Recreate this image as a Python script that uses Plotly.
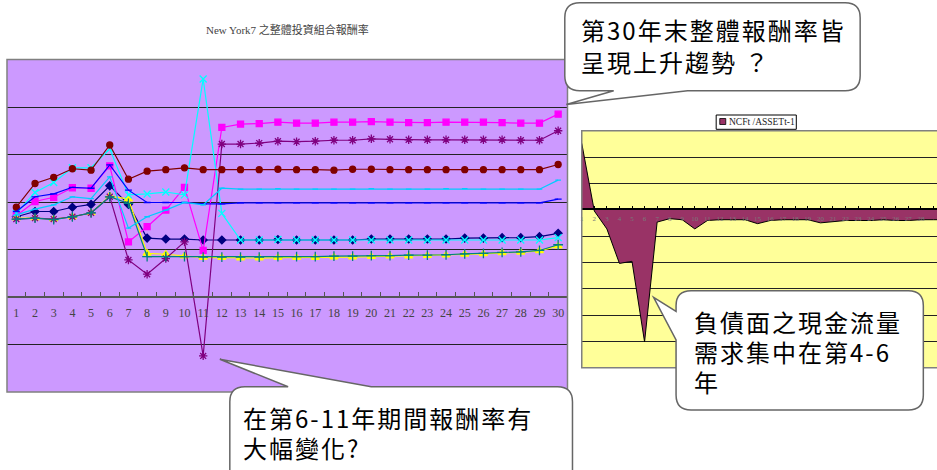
import plotly.graph_objects as go

W, H = 937, 470

# ---------------- data ----------------
years = list(range(1, 31))
year_labels = [str(y) for y in years]

# overall portfolio return of each asset mix (one gridline step = 1 unit)
ret_navy = [1.69, 1.80, 1.80, 1.89, 1.95, 2.34, 1.95, 1.24, 1.22, 1.22,
            1.20, 1.20, 1.20, 1.20, 1.21, 1.20, 1.20, 1.20, 1.20, 1.22,
            1.22, 1.22, 1.22, 1.22, 1.24, 1.24, 1.25, 1.25, 1.27, 1.34]
ret_magenta = [1.71, 2.01, 2.10, 2.30, 2.29, 2.76, 1.16, 1.48, 1.83, 2.31,
               0.98, 3.57, 3.64, 3.65, 3.68, 3.66, 3.66, 3.68, 3.68, 3.69,
               3.68, 3.67, 3.67, 3.68, 3.68, 3.68, 3.67, 3.66, 3.66, 3.85]
ret_yellow = [1.66, 1.66, 1.64, 1.69, 1.77, 2.13, 2.06, 0.92, 0.90, 0.86,
              0.83, 0.83, 0.82, 0.82, 0.83, 0.83, 0.83, 0.84, 0.84, 0.85,
              0.86, 0.86, 0.87, 0.88, 0.90, 0.91, 0.93, 0.94, 0.97, 1.07]
ret_cyan = [1.76, 2.20, 2.41, 2.72, 2.72, 3.12, 2.15, 2.17, 2.21, 2.15,
            4.59, 1.76, 1.20, 1.20, 1.21, 1.20, 1.20, 1.20, 1.20, 1.20,
            1.20, 1.20, 1.20, 1.20, 1.20, 1.20, 1.20, 1.20, 1.20, 1.25]
ret_purple = [1.64, 1.66, 1.64, 1.69, 1.77, 2.11, 0.78, 0.48, 0.81, 1.16,
              -1.24, 3.22, 3.22, 3.24, 3.28, 3.27, 3.28, 3.30, 3.30, 3.33,
              3.32, 3.31, 3.31, 3.31, 3.31, 3.31, 3.31, 3.30, 3.30, 3.50]
ret_darkred = [1.89, 2.39, 2.52, 2.70, 2.67, 3.20, 2.48, 2.65, 2.68, 2.72,
               2.68, 2.68, 2.68, 2.68, 2.69, 2.68, 2.68, 2.67, 2.69, 2.69,
               2.68, 2.68, 2.68, 2.68, 2.68, 2.68, 2.68, 2.68, 2.68, 2.79]
ret_teal = [1.64, 1.66, 1.63, 1.69, 1.77, 2.11, 1.97, 0.85, 0.85, 0.85,
            0.84, 0.84, 0.84, 0.84, 0.85, 0.85, 0.85, 0.86, 0.86, 0.87,
            0.87, 0.88, 0.88, 0.89, 0.91, 0.92, 0.94, 0.95, 0.98, 1.10]
ret_blue = [1.80, 2.11, 2.17, 2.31, 2.29, 2.78, 2.25, 1.99, 1.99, 1.99,
            1.96, 1.96, 1.98, 1.98, 1.98, 1.98, 1.98, 1.98, 1.98, 1.98,
            1.98, 1.98, 1.98, 1.98, 1.98, 1.98, 1.98, 1.98, 1.98, 2.06]
ret_sky = [1.73, 1.85, 1.94, 2.11, 2.07, 2.53, 1.45, 1.69, 1.83, 1.99,
           1.94, 2.29, 2.27, 2.27, 2.28, 2.27, 2.27, 2.27, 2.27, 2.28,
           2.27, 2.27, 2.27, 2.28, 2.28, 2.27, 2.27, 2.27, 2.27, 2.46]

# liability-side net cash flow relative to prior-year assets
ncf_ratio = [2.52, -0.05, -0.73, -2.04, -1.96, -5.02, -0.47, -0.34, -0.38, -0.73,
             -0.41, -0.38, -0.38, -0.38, -0.53, -0.41, -0.38, -0.38, -0.38, -0.50,
             -0.46, -0.41, -0.41, -0.41, -0.38, -0.41, -0.41, -0.38, -0.38, -0.38]

chart_title = "New York7 之整體投資組合報酬率"
legend_label = "NCFt /ASSETt-1"
note_top = ["第30年末整體報酬率皆", "呈現上升趨勢 ？"]
note_bottom = ["在第6-11年期間報酬率有", "大幅變化?"]
note_right = ["負債面之現金流量", "需求集中在第4-6", "年"]

# ---------------- styles ----------------
series = [
    (ret_navy,    dict(color="#000080", symbol="diamond", size=6)),
    (ret_magenta, dict(color="#FF00FF", symbol="square", size=6)),
    (ret_yellow,  dict(color="#FFFF00", symbol="triangle-up", size=7)),
    (ret_cyan,    dict(color="#00FFFF", symbol="x-thin-open", size=7)),
    (ret_purple,  dict(color="#800080", symbol="asterisk-open", size=7)),
    (ret_darkred, dict(color="#800000", symbol="circle", size=6)),
    (ret_teal,    dict(color="#008080", symbol="cross-thin-open", size=7)),
    (ret_blue,    dict(color="#0000FF", symbol="line-ew-open", size=5)),
    (ret_sky,     dict(color="#00CCFF", symbol="line-ew-open", size=4)),
]


def px(x):
    return x / W


def py(y):
    return 1 - y / H


fig = go.Figure()

for values, st in series:
    fig.add_trace(go.Scatter(
        x=year_labels, y=values, mode="lines+markers",
        line=dict(color=st["color"], width=1.2),
        marker=dict(color=st["color"], symbol=st["symbol"], size=st["size"],
                    line=dict(color=st["color"], width=1.3)),
        xaxis="x", yaxis="y", showlegend=False, hoverinfo="skip",
    ))

fig.add_trace(go.Scatter(
    x=years, y=ncf_ratio, mode="lines", fill="tozeroy",
    fillcolor="#993366", line=dict(color="#000000", width=1),
    xaxis="x2", yaxis="y2", showlegend=False, hoverinfo="skip",
))

SERIF = "Liberation Serif, Times New Roman, serif"
CJK = "Noto Sans CJK TC, Noto Sans CJK SC, sans-serif"

fig.update_layout(
    width=W, height=H,
    margin=dict(l=0, r=0, t=0, b=0),
    paper_bgcolor="white",
    plot_bgcolor="rgba(0,0,0,0)",
    xaxis=dict(
        type="category", domain=[px(5), px(566.7)], range=[-0.5, 29.5],
        anchor="free", position=py(297),
        showline=True, linecolor="#555555", linewidth=1.5,
        ticks="inside", ticklen=4, tickcolor="#555555", tickwidth=1,
        tickson="boundaries", showgrid=False, zeroline=False,
        tickangle=0,
        tickfont=dict(family=SERIF, size=12, color="#444444"),
        ticklabelstandoff=5,
    ),
    yaxis=dict(
        domain=[py(392), py(59.5)], range=[-2, 5], dtick=1, anchor="x",
        showgrid=True, gridcolor="#222222", gridwidth=1,
        showticklabels=False, zeroline=False, showline=False, ticks="",
    ),
    xaxis2=dict(
        domain=[px(581), 1.0], range=[1, 29.28],
        anchor="free", position=py(209.3),
        tickvals=years, ticktext=year_labels, tickangle=0,
        showline=True, linecolor="#000000", linewidth=1.5,
        ticks="inside", ticklen=3, tickcolor="#000000", tickwidth=1,
        showgrid=False, zeroline=False,
        tickfont=dict(family=SERIF, size=7, color="#7a7a7a"),
        ticklabelstandoff=3,
    ),
    yaxis2=dict(
        domain=[py(367.7), py(130.7)], range=[-6, 3], dtick=1, anchor="x2",
        showgrid=True, gridcolor="#222222", gridwidth=1,
        showticklabels=False, zeroline=False, showline=False, ticks="",
    ),
)

shapes = []
# plot-area backgrounds
for xr, yr, fill in (("x domain", "y domain", "#CC99FF"), ("x2 domain", "y2 domain", "#FFFF99")):
    shapes.append(dict(type="rect", xref=xr, yref=yr, x0=0, x1=1, y0=0, y1=1,
                       fillcolor=fill, line=dict(width=0), layer="below"))
# frames: full box on the returns chart, open on the right for the cash-flow chart
frame = dict(color="#808080", width=1.5)
shapes.append(dict(type="rect", xref="x domain", yref="y domain", x0=0, x1=1, y0=0, y1=1,
                   fillcolor="rgba(0,0,0,0)", line=frame, layer="above"))
shapes.append(dict(type="path", xref="x2 domain", yref="y2 domain",
                   path="M 1,1 L 0,1 L 0,0 L 1,0", line=frame, layer="above"))

# legend box of the cash-flow chart
shapes.append(dict(type="rect", xref="paper", yref="paper",
                   x0=px(715.7), x1=px(796), y0=py(129.3), y1=py(115),
                   fillcolor="white", line=dict(color="#000000", width=1)))
shapes.append(dict(type="rect", xref="paper", yref="paper",
                   x0=px(719.3), x1=px(725.3), y0=py(124.5), y1=py(118.5),
                   fillcolor="#993366", line=dict(color="#000000", width=0.8)))


def bubble(x0, y0, x1, y1, r, side, a, b, tip):
    """Rounded speech-bubble outline in pixel coords; tail leaves `side` between a and b."""
    tx, ty = tip
    pts = []

    def P(cmd, *xy):
        out = [cmd]
        for i in range(0, len(xy), 2):
            out.append(f"{px(xy[i]):.5f},{py(xy[i + 1]):.5f}")
        pts.append(" ".join(out))

    P("M", x0 + r, y0)
    if side == "top":
        P("L", a, y0); P("L", tx, ty); P("L", b, y0)
    P("L", x1 - r, y0)
    P("Q", x1, y0, x1, y0 + r)
    P("L", x1, y1 - r)
    P("Q", x1, y1, x1 - r, y1)
    if side == "bottom":
        P("L", b, y1); P("L", tx, ty); P("L", a, y1)
    P("L", x0 + r, y1)
    P("Q", x0, y1, x0, y1 - r)
    if side == "left":
        P("L", x0, b); P("L", tx, ty); P("L", x0, a)
    P("L", x0, y0 + r)
    P("Q", x0, y0, x0 + r, y0)
    return " ".join(pts) + " Z"


bubble_style = dict(type="path", xref="paper", yref="paper", fillcolor="white",
                    line=dict(color="#666666", width=1.5), layer="above")
shapes.append(dict(path=bubble(564, 2.7, 860, 90.7, 15, "bottom", 613, 687, (565.5, 104.5)),
                   **bubble_style))
shapes.append(dict(path=bubble(228.3, 386.7, 571.7, 500, 15, "top", 286.7, 370, (218.3, 359.3)),
                   **bubble_style))
shapes.append(dict(path=bubble(675.5, 290.7, 923.3, 410, 15, "left", 311.5, 340, (653, 297.3)),
                   **bubble_style))
fig.update_layout(shapes=shapes)

annotations = [
    dict(text=chart_title, x=px(286), y=py(30), xanchor="center", yanchor="middle",
         font=dict(family=SERIF + ", " + CJK, size=11, color="#444444")),
    dict(text=legend_label, x=px(727), y=py(122.2), xanchor="left", yanchor="middle",
         font=dict(family=SERIF, size=9.5, color="#222222")),
]


def callout_text(lines, left, centers):
    """One annotation per callout line, with slightly widened glyph spacing."""
    for ln, cy in zip(lines, centers):
        annotations.append(dict(
            text=f'<span style="letter-spacing:2px">{ln}</span>',
            x=px(left), y=py(cy), xanchor="left", yanchor="middle", align="left",
            height=29, valign="middle", borderpad=0,
            font=dict(family=CJK, size=24, color="#000000"),
        ))


callout_text(note_top, 579, [29.5, 62])
callout_text(note_bottom, 240.5, [417.5, 447.5])
callout_text(note_right, 692, [321, 351, 381])

for ann in annotations:
    ann.update(xref="paper", yref="paper", showarrow=False)
fig.update_layout(annotations=annotations)

fig.write_html("out.html")
